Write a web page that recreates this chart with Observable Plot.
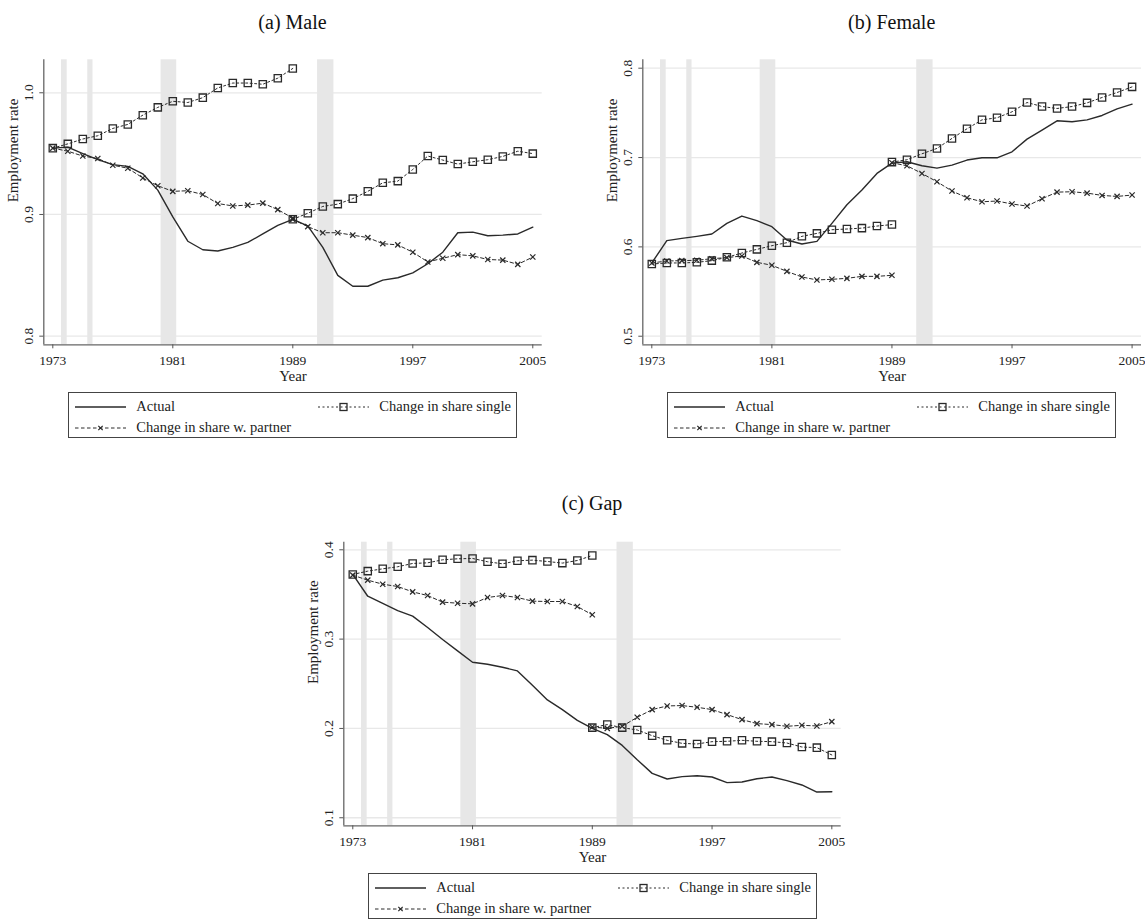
<!DOCTYPE html>
<html>
<head>
<meta charset="utf-8">
<script src="https://cdn.jsdelivr.net/npm/d3@7"></script>
<script src="https://cdn.jsdelivr.net/npm/@observablehq/plot@0.6"></script>
<style>
  html, body { margin: 0; padding: 0; background: #fff; }
  #root { position: relative; width: 1145px; height: 920px; overflow: hidden; font-family: "Liberation Serif", serif; color: #222; }
  .title { position: absolute; transform: translate(-50%, -50%); font-family: "Liberation Serif", serif; font-size: 20px; white-space: nowrap; color: #111; }
  .panel { position: absolute; }
  .legend { position: absolute; box-sizing: border-box; border: 1px solid #444; width: 449px; height: 46px; font-size: 14.5px; }
  .item { position: absolute; display: flex; align-items: center; white-space: nowrap; }
  .item svg { margin-right: 10px; }
</style>
</head>
<body>
<div id="root"></div>
<script>
// ---------- data ----------
const years = [1973,1974,1975,1976,1977,1978,1979,1980,1981,1982,1983,1984,1985,1986,1987,1988,1989,
               1990,1991,1992,1993,1994,1995,1996,1997,1998,1999,2000,2001,2002,2003,2004,2005];
const yearsSeg1 = [1973,1974,1975,1976,1977,1978,1979,1980,1981,1982,1983,1984,1985,1986,1987,1988,1989];
const yearsSeg2 = [1989,1990,1991,1992,1993,1994,1995,1996,1997,1998,1999,2000,2001,2002,2003,2004,2005];
const xTicks = [1973, 1981, 1989, 1997, 2005];

// shaded periods
const bandStart = [1973.58, 1975.33, 1980.22, 1990.65];
const bandEnd   = [1973.96, 1975.68, 1981.26, 1991.74];

// (a) Male
const maleActual = [0.9545,0.9553,0.950,0.945,0.941,0.9395,0.9334,0.920,0.898,0.878,0.871,0.870,0.873,0.877,0.884,0.891,0.896,
                    0.8907,0.873,0.850,0.841,0.841,0.846,0.848,0.852,0.8595,0.869,0.885,0.8855,0.8825,0.883,0.884,0.8896];
const maleSingle1 = [0.9545,0.958,0.962,0.9647,0.9707,0.974,0.9816,0.988,0.993,0.992,0.996,1.004,1.008,1.008,1.007,1.012,1.020];
const maleSingle2 = [0.896,0.901,0.9066,0.9085,0.913,0.919,0.926,0.9274,0.937,0.948,0.9447,0.9414,0.9433,0.945,0.9477,0.952,0.950];
const malePartner1 = [0.9545,0.952,0.948,0.946,0.9405,0.938,0.930,0.9236,0.919,0.9195,0.9164,0.909,0.907,0.9077,0.9093,0.904,0.897];
const malePartner2 = [0.896,0.890,0.885,0.885,0.883,0.881,0.876,0.875,0.869,0.861,0.864,0.867,0.866,0.863,0.8625,0.859,0.865];
const maleTicks = [0.8, 0.9, 1.0];

// (b) Female
const femaleActual = [0.582,0.607,0.6095,0.6118,0.6144,0.6263,0.6345,0.6293,0.6226,0.6077,0.6032,0.6062,0.6263,0.6472,0.6636,0.6822,0.6938,
                      0.6953,0.6908,0.6882,0.6915,0.6972,0.6997,0.6997,0.7064,0.7206,0.7307,0.7411,0.740,0.7422,0.7471,0.7545,0.7597];
const femaleSingle1 = [0.5808,0.582,0.582,0.5827,0.5846,0.5883,0.5931,0.5972,0.6013,0.6047,0.6118,0.6151,0.6192,0.620,0.621,0.6233,0.625];
const femaleSingle2 = [0.6949,0.6975,0.7042,0.7102,0.7214,0.7322,0.7422,0.7445,0.7512,0.7616,0.7571,0.7549,0.7571,0.7612,0.7672,0.7728,0.7791];
const femalePartner1 = [0.582,0.5842,0.5846,0.585,0.5868,0.588,0.5898,0.5827,0.5794,0.5726,0.5663,0.563,0.5637,0.5648,0.567,0.567,0.5682];
const femalePartner2 = [0.6941,0.6908,0.6822,0.6729,0.6625,0.655,0.6505,0.6513,0.648,0.6457,0.6539,0.6613,0.6617,0.6602,0.6576,0.6565,0.658];
const femaleTicks = [0.5, 0.6, 0.7, 0.8];

// (c) Gap
const gapActual = [0.3724,0.348,0.3399,0.332,0.3257,0.313,0.2995,0.2868,0.2741,0.2719,0.2685,0.2644,0.2483,0.2319,0.2211,0.2091,0.2,
                   0.193,0.181,0.165,0.1497,0.1434,0.146,0.147,0.1456,0.1393,0.14,0.1437,0.1456,0.1415,0.1367,0.1288,0.1292];
const gapSingle1 = [0.3724,0.3761,0.3787,0.381,0.3847,0.3854,0.3888,0.3899,0.3903,0.3866,0.3843,0.3877,0.3884,0.3869,0.3851,0.388,0.3936];
const gapSingle2 = [0.2009,0.2043,0.2009,0.1983,0.1919,0.1867,0.1833,0.1826,0.1852,0.1856,0.1867,0.1856,0.1852,0.1837,0.1792,0.1785,0.1703];
const gapPartner1 = [0.3716,0.366,0.3615,0.3589,0.3529,0.3488,0.3414,0.3402,0.3395,0.3466,0.3488,0.3466,0.3425,0.3421,0.3421,0.3365,0.3272];
const gapPartner2 = [0.2016,0.2001,0.2024,0.2125,0.2211,0.2252,0.2256,0.2237,0.2211,0.2155,0.2099,0.2054,0.2043,0.2024,0.2035,0.2028,0.2076];
const gapTicks = [0.1, 0.2, 0.3, 0.4];

const legendLabels = ["Actual", "Change in share single", "Change in share w. partner"];

// ---------- drawing ----------
const root = document.getElementById("root");
const INK = "#2a2a2a";
const X_DOMAIN = [1972.4, 2005.627];

function segs(y1, y2) {
  return [
    ...yearsSeg1.map((year, i) => ({year, v: y1[i], seg: 1})),
    ...yearsSeg2.map((year, i) => ({year, v: y2[i], seg: 2}))
  ];
}

function panel(cfg) {
  const bands = bandStart.map((s, i) => ({s, e: bandEnd[i]}));
  const actual = years.map((year, i) => ({year, v: cfg.actual[i]}));
  const single = segs(cfg.s1, cfg.s2);
  const partner = segs(cfg.p1, cfg.p2);
  const fmt = d3.format(".1f");
  const chart = Plot.plot({
    width: cfg.width,
    height: cfg.height,
    marginLeft: cfg.ml, marginRight: cfg.mr, marginTop: cfg.mt, marginBottom: cfg.mb,
    style: {fontFamily: "Liberation Serif, serif", fontSize: "13px", background: "transparent", color: "#222"},
    x: {domain: X_DOMAIN},
    y: {domain: cfg.yDomain},
    marks: [
      Plot.gridY(cfg.yTicks, {stroke: "#e8e8e8", strokeOpacity: 1, strokeWidth: 1.3}),
      Plot.rect(bands, {x1: "s", x2: "e", fill: "#e7e7e7"}),
      Plot.ruleX([X_DOMAIN[0]], {stroke: "#666", strokeWidth: 1.3}),
      Plot.ruleY([cfg.yDomain[0]], {stroke: "#666", strokeWidth: 1.3}),
      Plot.axisX({ticks: xTicks, tickSize: 4, tickPadding: 7, tickFormat: "d", label: null, stroke: "#555", fill: "#222", fontSize: 13.5}),
      Plot.axisY({ticks: cfg.yTicks, tickSize: 4, tickFormat: () => "", label: null, stroke: "#555"}),
      Plot.text(cfg.yTicks, {x: X_DOMAIN[0], y: d => d, text: d => fmt(d), rotate: -90, dx: -15.5, fontSize: 13.5, fill: "#222", textAnchor: "middle", lineAnchor: "middle"}),
      Plot.text(["Employment rate"], {frameAnchor: "left", dx: -31, rotate: -90, fontSize: 15, fill: "#222", lineAnchor: "middle"}),
      Plot.text(["Year"], {frameAnchor: "bottom", dy: 31.7, fontSize: 15, fill: "#222", lineAnchor: "middle"}),
      Plot.line(partner, {x: "year", y: "v", z: "seg", stroke: INK, strokeWidth: 1, strokeDasharray: "3.5,2.5"}),
      Plot.line(single, {x: "year", y: "v", z: "seg", stroke: INK, strokeWidth: 1, strokeDasharray: "2,2.5"}),
      Plot.line(actual, {x: "year", y: "v", stroke: INK, strokeWidth: 1.4}),
      Plot.dot(partner, {x: "year", y: "v", symbol: "times", r: 2.5, stroke: INK, strokeWidth: 1.2}),
      Plot.dot(single, {x: "year", y: "v", symbol: "square", r: 4.1, stroke: INK, fill: "none", strokeWidth: 1.3})
    ]
  });
  const wrap = document.createElement("div");
  wrap.className = "panel";
  wrap.style.left = cfg.left + "px";
  wrap.style.top = cfg.top + "px";
  wrap.appendChild(chart);
  root.appendChild(wrap);

  const t = document.createElement("div");
  t.className = "title";
  t.textContent = cfg.title;
  t.style.left = cfg.titleX + "px";
  t.style.top = cfg.titleY + "px";
  root.appendChild(t);

  legend(cfg.legendX, cfg.legendY);
}

function sample(kind) {
  const w = 51, h = 10;
  let s = `<svg width="${w}" height="${h}" viewBox="0 0 ${w} ${h}">`;
  if (kind === 0) s += `<line x1="0" y1="5" x2="${w}" y2="5" stroke="${INK}" stroke-width="1.4"/>`;
  if (kind === 1) s += `<line x1="0" y1="5" x2="${w}" y2="5" stroke="${INK}" stroke-width="1" stroke-dasharray="2,2.5"/>` +
                       `<rect x="${w/2-3.5}" y="1.5" width="7" height="7" fill="none" stroke="${INK}" stroke-width="1.3"/>`;
  if (kind === 2) s += `<line x1="0" y1="5" x2="${w}" y2="5" stroke="${INK}" stroke-width="1" stroke-dasharray="3.5,2.5"/>` +
                       `<path d="M${w/2-2.2},2.8L${w/2+2.2},7.2M${w/2-2.2},7.2L${w/2+2.2},2.8" stroke="${INK}" stroke-width="1.2"/>`;
  return s + `</svg>`;
}

function legend(x, y) {
  const box = document.createElement("div");
  box.className = "legend";
  box.style.left = x + "px";
  box.style.top = y + "px";
  const pos = [[6, 14.3], [249, 14.3], [6, 35]];
  legendLabels.forEach((lab, i) => {
    const it = document.createElement("div");
    it.className = "item";
    it.style.left = pos[i][0] + "px";
    it.style.top = (pos[i][1] - 9) + "px";
    it.style.height = "18px";
    it.innerHTML = sample(i) + `<span>${lab}</span>`;
    box.appendChild(it);
  });
  root.appendChild(box);
}

panel({
  title: "(a) Male", titleX: 292.5, titleY: 21.7,
  left: 0, top: 40, width: 572, height: 350, ml: 43.3, mr: 30.3, mt: 19.3, mb: 45.7,
  yDomain: [0.7929, 1.0271], yTicks: maleTicks,
  actual: maleActual, s1: maleSingle1, s2: maleSingle2, p1: malePartner1, p2: malePartner2,
  legendX: 68.3, legendY: 391.7
});
panel({
  title: "(b) Female", titleX: 891.7, titleY: 21.7,
  left: 600, top: 40, width: 545, height: 350, ml: 42.3, mr: 4, mt: 19.3, mb: 45.7,
  yDomain: [0.4904, 0.8094], yTicks: femaleTicks,
  actual: femaleActual, s1: femaleSingle1, s2: femaleSingle2, p1: femalePartner1, p2: femalePartner2,
  legendX: 667.3, legendY: 391.7
});
panel({
  title: "(c) Gap", titleX: 592, titleY: 503,
  left: 300, top: 522, width: 570, height: 350, ml: 43.3, mr: 29.3, mt: 19.7, mb: 46.7,
  yDomain: [0.091, 0.4085], yTicks: gapTicks,
  actual: gapActual, s1: gapSingle1, s2: gapSingle2, p1: gapPartner1, p2: gapPartner2,
  legendX: 368.3, legendY: 872.7
});
</script>
</body>
</html>
